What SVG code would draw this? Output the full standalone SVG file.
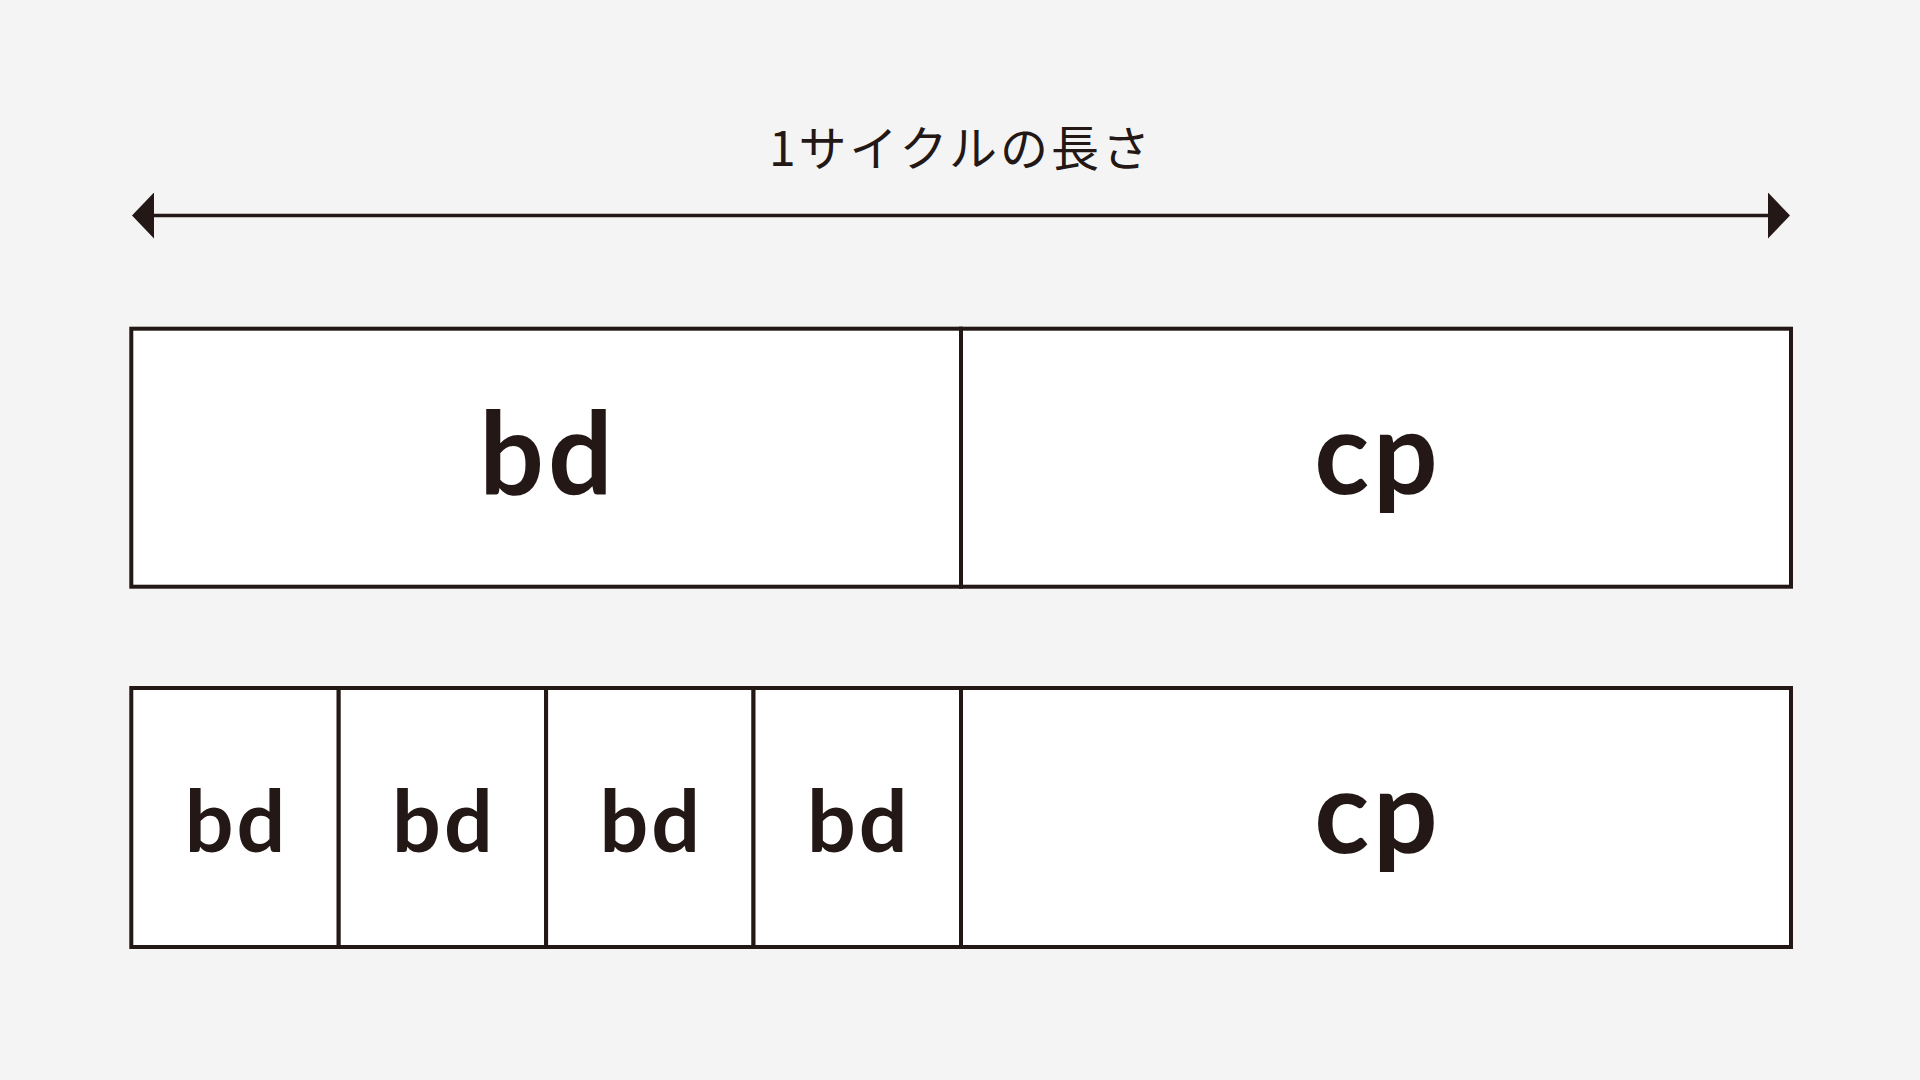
<svg xmlns="http://www.w3.org/2000/svg" width="1920" height="1080" viewBox="0 0 1920 1080">
<style>
.cell{fill:#ffffff;stroke:#231815;stroke-width:4}
.lbl{font-family:Lato,"Noto Sans",sans-serif;font-weight:700;fill:#231815;text-anchor:middle}
.big{font-size:114px;letter-spacing:4px}
.small{font-size:86px;letter-spacing:3px}
.title{font-family:"Noto Sans CJK JP","Noto Sans",sans-serif;font-size:48px;fill:#231815;text-anchor:middle;letter-spacing:3px}
</style>
<defs>
<marker id="ah" viewBox="0 0 22 46" refX="0" refY="23" markerWidth="22" markerHeight="46" markerUnits="userSpaceOnUse" orient="auto-start-reverse">
<path d="M0,0 L22,23 L0,46 Z" fill="#231815"/>
</marker>
</defs>
<rect width="1920" height="1080" fill="#f4f4f4"/>
<g id="connectors">
<line x1="154" y1="215.5" x2="1768" y2="215.5" stroke="#231815" stroke-width="3.6" marker-start="url(#ah)" marker-end="url(#ah)"/>
</g>
<g id="title"><text class="title" x="961" y="166">1サイクルの長さ</text></g>
<g id="row1-bd"><rect class="cell" x="131.3" y="328.7" width="829.7" height="258"/><text class="lbl big" x="548" y="494">bd</text></g>
<g id="row1-cp"><rect class="cell" x="961" y="328.7" width="830" height="258"/><text class="lbl big" x="1378" y="494">cp</text></g>
<g id="row2-bd1"><rect class="cell" x="131.3" y="688" width="207.4" height="259"/><text class="lbl small" x="236.5" y="852">bd</text></g>
<g id="row2-bd2"><rect class="cell" x="338.7" y="688" width="207.4" height="259"/><text class="lbl small" x="443.9" y="852">bd</text></g>
<g id="row2-bd3"><rect class="cell" x="546.1" y="688" width="207.4" height="259"/><text class="lbl small" x="651.3" y="852">bd</text></g>
<g id="row2-bd4"><rect class="cell" x="753.5" y="688" width="207.5" height="259"/><text class="lbl small" x="858.7" y="852">bd</text></g>
<g id="row2-cp"><rect class="cell" x="961" y="688" width="830" height="259"/><text class="lbl big" x="1378" y="853">cp</text></g>
</svg>
